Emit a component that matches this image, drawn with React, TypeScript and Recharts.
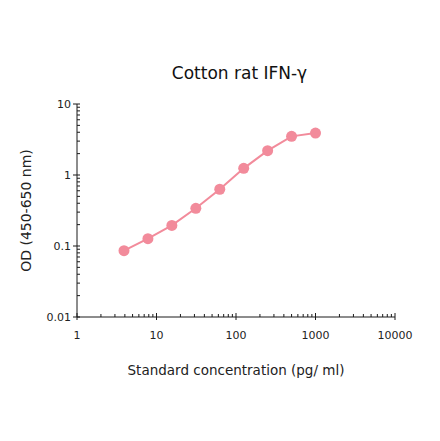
import { LineChart, Line, XAxis, YAxis } from 'recharts';

const concentrations = [3.9, 7.8, 15.6, 31.25, 62.5, 125, 250, 500, 1000];
const odValues = [0.086, 0.127, 0.195, 0.34, 0.63, 1.24, 2.2, 3.5, 3.9];

const xMajorTicks = [1, 10, 100, 1000, 10000];
const xTickLabels = ['1', '10', '100', '1000', '10000'];
const yMajorTicks = [0.01, 0.1, 1, 10];
const yTickLabels = ['0.01', '0.1', '1', '10'];

const FONT = '"DejaVu Sans", sans-serif';
const AXIS_COLOR = '#1a1a1a';
const SERIES_COLOR = '#f28b9b';

// minor ticks at 2..9 of every decade between the majors
const withMinors = (majors: number[]) => {
  const out: number[] = [];
  majors.forEach((m, i) => {
    out.push(m);
    if (i < majors.length - 1) {
      for (let k = 2; k <= 9; k++) out.push(Number((m * k).toPrecision(3)));
    }
  });
  return out;
};

const xTicks = withMinors(xMajorTicks);
const yTicks = withMinors(yMajorTicks);

const data = concentrations.map((conc, i) => ({ conc, od: odValues[i] }));

const XTick = ({ x, y, payload }: any) => {
  const idx = xMajorTicks.indexOf(payload.value);
  const major = idx >= 0;
  return (
    <g>
      <line
        x1={x}
        x2={x}
        y1={major ? y - 4 : y - 3}
        y2={major ? y + 3 : y}
        stroke={AXIS_COLOR}
        strokeWidth={1}
      />
      {major && (
        <text x={x} y={y + 22} textAnchor="middle" fontSize={11} fontFamily={FONT} fill="#222">
          {xTickLabels[idx]}
        </text>
      )}
    </g>
  );
};

const YTick = ({ x, y, payload }: any) => {
  const idx = yMajorTicks.findIndex((v) => Math.abs(v - payload.value) < 1e-9);
  const major = idx >= 0;
  return (
    <g>
      <line
        x1={major ? x - 4 : x}
        x2={major ? x + 3 : x + 3}
        y1={y}
        y2={y}
        stroke={AXIS_COLOR}
        strokeWidth={1}
      />
      {major && (
        <text x={x - 6} y={y + 4} textAnchor="end" fontSize={11} fontFamily={FONT} fill="#222">
          {yTickLabels[idx]}
        </text>
      )}
    </g>
  );
};

const XLabel = ({ viewBox }: any) => (
  <text
    x={viewBox.x + viewBox.width / 2}
    y={viewBox.y + 58}
    textAnchor="middle"
    fontSize={13.5}
    fontFamily={FONT}
    fill="#222"
  >
    Standard concentration (pg/ ml)
  </text>
);

const YLabel = ({ viewBox }: any) => {
  const cx = viewBox.x + 14;
  const cy = viewBox.y + viewBox.height / 2;
  return (
    <text
      x={cx}
      y={cy}
      transform={`rotate(-90 ${cx} ${cy})`}
      textAnchor="middle"
      fontSize={14}
      fontFamily={FONT}
      fill="#222"
    >
      OD (450-650 nm)
    </text>
  );
};

export default function App() {
  return (
    <div style={{ position: 'absolute', left: 0, top: 0, width: 440, height: 441, background: '#fff' }}>
      <div
        style={{
          position: 'absolute',
          left: 239.5,
          top: 62,
          transform: 'translateX(-50%)',
          whiteSpace: 'nowrap',
          fontFamily: FONT,
          fontSize: 17,
          lineHeight: '22px',
          color: '#111',
        }}
      >
        Cotton rat IFN-γ
      </div>
      <LineChart width={440} height={441} data={data} margin={{ top: 104, right: 45, bottom: 64, left: 17 }}>
        <XAxis
          dataKey="conc"
          type="number"
          scale="log"
          domain={[1, 10000]}
          ticks={xTicks}
          interval={0}
          allowDataOverflow
          height={60}
          tickSize={0}
          tickMargin={0}
          tickLine={false}
          tick={<XTick />}
          axisLine={{ stroke: AXIS_COLOR, strokeWidth: 1 }}
          label={{ content: (props: any) => <XLabel {...props} /> }}
        />
        <YAxis
          dataKey="od"
          type="number"
          scale="log"
          domain={[0.01, 10]}
          ticks={yTicks}
          interval={0}
          allowDataOverflow
          width={60}
          tickSize={0}
          tickMargin={0}
          tickLine={false}
          tick={<YTick />}
          axisLine={{ stroke: AXIS_COLOR, strokeWidth: 1 }}
          label={{ content: (props: any) => <YLabel {...props} /> }}
        />
        <Line
          dataKey="od"
          stroke={SERIES_COLOR}
          strokeWidth={2}
          dot={{ r: 5.5, fill: SERIES_COLOR, stroke: 'none' }}
          activeDot={false}
          isAnimationActive={false}
        />
      </LineChart>
    </div>
  );
}
